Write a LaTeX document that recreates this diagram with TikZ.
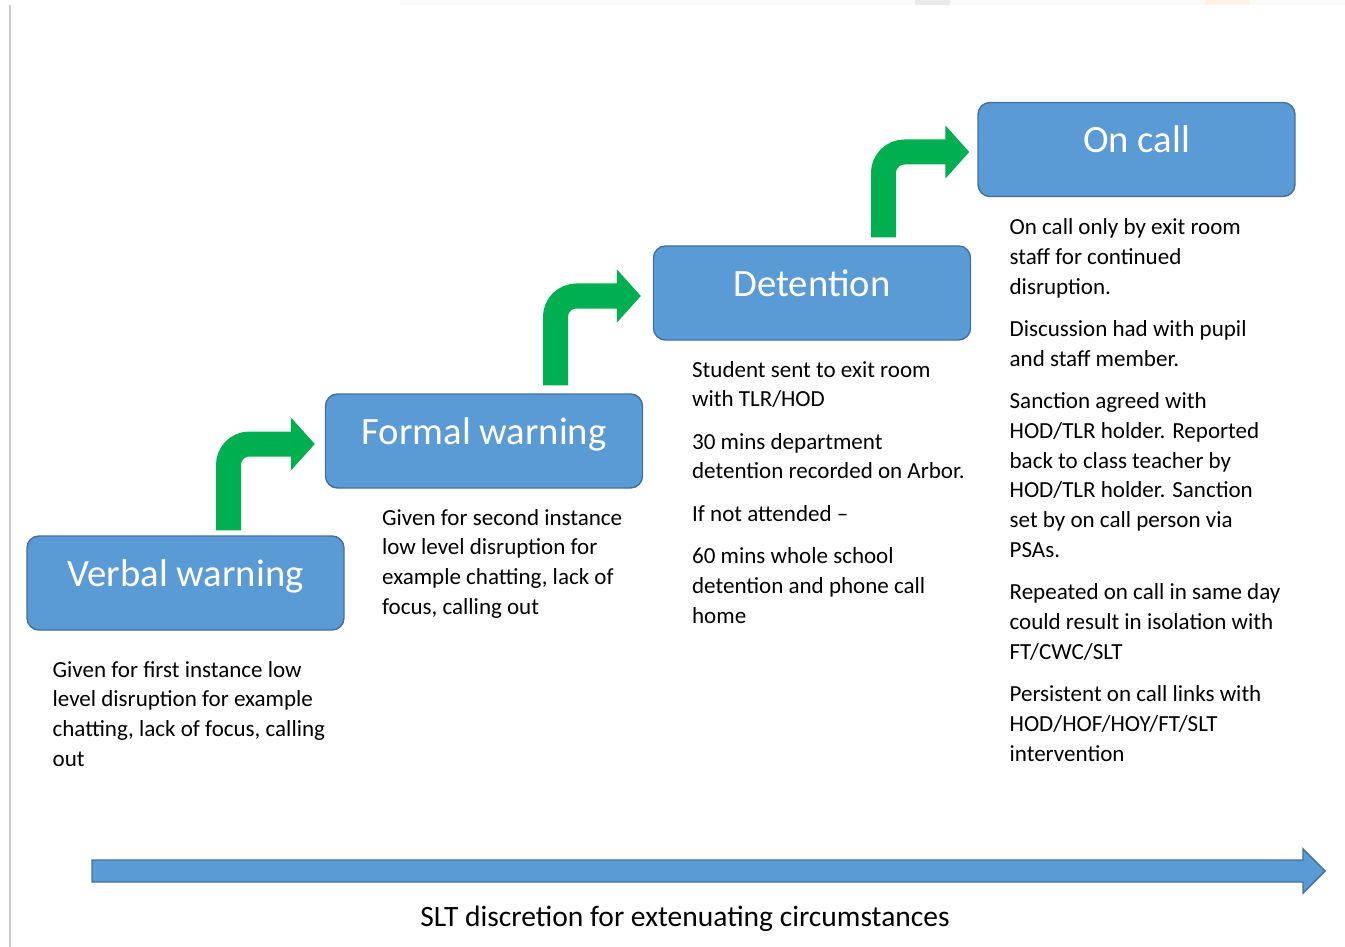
\documentclass[tikz,border=0pt]{standalone}
\usepackage{fontspec}
\setmainfont{Carlito}
\usepackage{tikz}
\usetikzlibrary{arrows.meta, positioning, calc}
\definecolor{boxblue}{HTML}{5B9BD5}
\definecolor{boxedge}{HTML}{41719C}
\definecolor{stepgreen}{HTML}{00B050}
\tikzstyle{stagebox} = [rectangle, rounded corners=0.24cm, minimum width=6.34cm, minimum height=1.88cm, text height=0.64cm, text depth=0.5cm, draw=boxedge, line width=0.8pt, fill=boxblue, text=white, font=\fontsize{22}{26}\selectfont]
\tikzstyle{infotext} = [align=left, inner sep=0pt, font=\fontsize{13.1}{16.95}\selectfont]
\tikzstyle{climb} = [line width=0.5cm, stepgreen, rounded corners=0.42cm, -{Triangle[length=0.48cm, width=1.04cm]}]

\begin{document}
\begin{tikzpicture}
    \useasboundingbox (0,0) rectangle (26.9,-18.94);
    % page edges
    \fill[black!2] (8.0,0) rectangle (26.9,-0.1);
    \fill[blue!8!gray!15] (18.3,0) rectangle (19.0,-0.1);
    \fill[orange!10] (24.1,0) rectangle (25.0,-0.1);
    \draw[gray!40, line width=0.8pt] (0.2,-0.1) -- (0.2,-18.94);

    \node (box1) [stagebox] at (3.71,-11.66) {Verbal warning};
    \node (box2) [stagebox] at (9.68,-8.82) {Formal warning};
    \node (box3) [stagebox] at (16.24,-5.86) {Detention};
    \node (box4) [stagebox] at (22.73,-2.99) {On call};

    \node (info1) [infotext, below right=0.6cm and 0.52cm of box1.south west] {Given for first instance low\\level disruption for example\\chatting, lack of focus, calling\\out};
    \node (info2) [infotext, below right=0.4cm and 1.14cm of box2.south west] {Given for second instance\\low level disruption for\\example chatting, lack of\\focus, calling out};
    \node (info3) [infotext, below right=0.4cm and 0.78cm of box3.south west] {Student sent to exit room\\with TLR/HOD\\[0.25cm]
        30 mins department\\detention recorded on Arbor.\\[0.25cm]
        If not attended --\\[0.25cm]
        60 mins whole school\\detention and phone call\\home};
    \node (info4) [infotext, below right=0.42cm and 0.64cm of box4.south west] {On call only by exit room\\staff for continued\\disruption.\\[0.25cm]
        Discussion had with pupil\\and staff member.\\[0.25cm]
        Sanction agreed with\\HOD/TLR holder. Reported\\back to class teacher by\\HOD/TLR holder. Sanction\\set by on call person via\\PSAs.\\[0.25cm]
        Repeated on call in same day\\could result in isolation with\\FT/CWC/SLT\\[0.25cm]
        Persistent on call links with\\HOD/HOF/HOY/FT/SLT\\intervention};

    \draw [climb] ($(box1.north)+(0.86,0.1)$) |- ($(box2.west)+(-0.2,-0.06)$);
    \draw [climb] ($(box2.north)+(1.43,0.16)$) |- ($(box3.west)+(-0.24,-0.06)$);
    \draw [climb] ($(box3.north)+(1.43,0.16)$) |- ($(box4.west)+(-0.16,-0.05)$);

    % long arrow along the bottom
    \coordinate (slt1) at (1.84,-17.42);
    \coordinate (slt2) at (26.5,-17.42);
    \draw[boxedge, fill=boxblue, line width=0.8pt] ($(slt1)+(0,0.22)$) -- ($(slt2)+(-0.44,0.22)$) -- ($(slt2)+(-0.44,0.44)$) -- (slt2)
        -- ($(slt2)+(-0.44,-0.44)$) -- ($(slt2)+(-0.44,-0.22)$) -- ($(slt1)+(0,-0.22)$) -- cycle;
    \node (slt) at (13.7,-18.38) {\fontsize{16.8}{20}\selectfont SLT discretion for extenuating circumstances};
\end{tikzpicture}
\end{document}
